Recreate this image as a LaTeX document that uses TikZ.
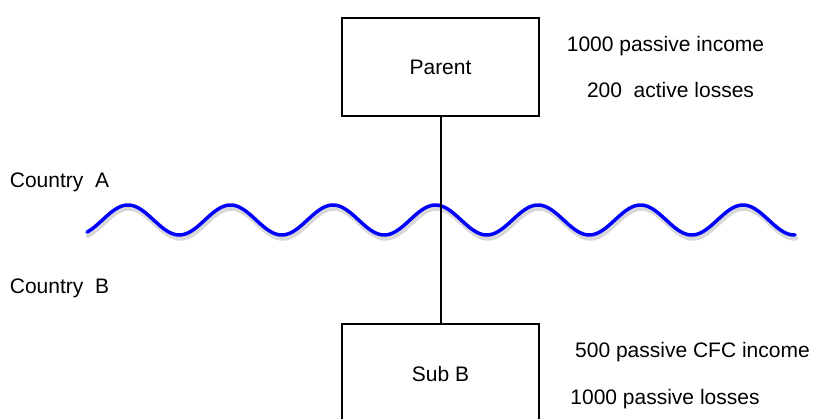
\documentclass[tikz,border=0pt]{standalone}
\usepackage{fontspec}
\setmainfont{Liberation Sans}
\begin{document}
\begin{tikzpicture}[x=1pt,y=-1pt,
  every node/.style={font=\fontsize{21}{25}\selectfont},
  entity/.style={draw=black, line width=2.8pt, minimum width=197pt, inner sep=0pt},
  label/.style={anchor=base, inner sep=0pt},
  link/.style={draw=black, line width=2pt},
  wave/.style={draw=blue, line width=3.5pt, line cap=round},
  waveshadow/.style={draw=black!30, opacity=0.5, line width=4.5pt, line cap=round}]
\useasboundingbox (0,0) rectangle (816,419);
% wave shadow and wave
\draw[waveshadow, domain=88:796, samples=300, smooth] plot (\x, {223.5 - 15*cos((\x-129)/102.5*360)});
\draw[wave, domain=87:795, samples=300, smooth] plot (\x, {220 - 15*cos((\x-128)/102.5*360)});
% boxes
\node[entity, minimum height=98pt] (parent) at (440.5,67) {Parent};
\node[entity, minimum height=99pt] (sub) at (440.5,373.5) {Sub B};
\draw[link] (parent.south) -- (sub.north);
% labels
\node[label] (pinc) at (665.5,52) {1000 passive income};
\node[label] (ploss) at (670.5,98) {200\ \ active losses};
\node[label] (sinc) at (692.5,357) {500 passive CFC income};
\node[label] (sloss) at (665,404) {1000 passive losses};
\node[label] (ca) at (59.5,188) {Country\ \ A};
\node[label] (cb) at (59.5,294) {Country\ \ B};
\end{tikzpicture}
\end{document}
